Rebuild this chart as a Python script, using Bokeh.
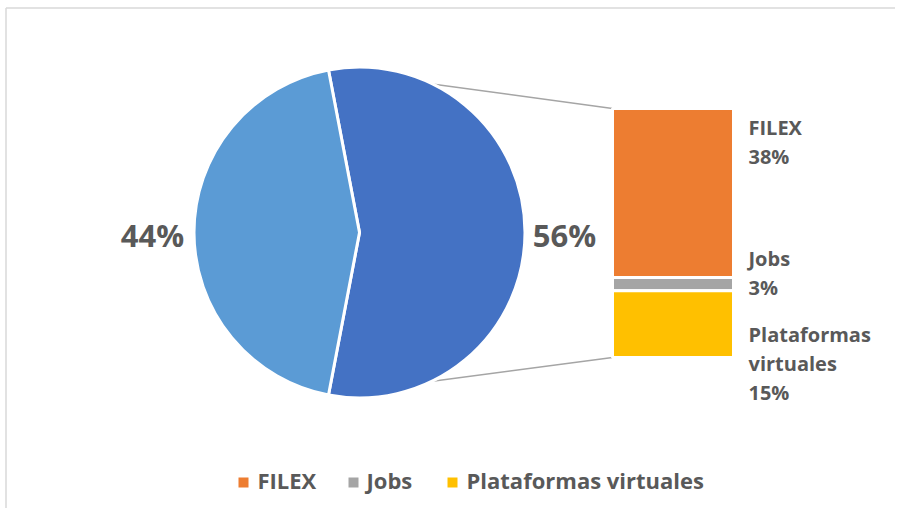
import math
from bokeh.plotting import figure
from bokeh.models import Range1d
from bokeh.core.properties import value
from bokeh.embed import file_html
from bokeh.resources import INLINE

# ---- data ----
pie_labels = ["Otros", "Resto"]
pie_values = [56, 44]            # 56% is broken out into the bar
bar_categories = ["FILEX", "Jobs", "Plataformas virtuales"]
bar_values = [38, 3, 15]
bar_label_lines = [["FILEX", "38%"], ["Jobs", "3%"], ["Plataformas", "virtuales", "15%"]]

# ---- style ----
PIE_COLORS = ["#4472C4", "#5B9BD5"]
BAR_COLORS = ["#ED7D31", "#A5A5A5", "#FFC000"]
TXT = "#595959"
FONT = "Open Sans"

W, H = 895, 508
p = figure(width=W, height=H, output_backend="svg", toolbar_location=None,
           x_range=Range1d(0, W), y_range=Range1d(0, H), min_border=0)
p.axis.visible = False
p.grid.visible = False
p.outline_line_color = None
p.background_fill_color = "white"

def Y(img_y):
    return H - img_y

def X(img_x):
    return img_x

def TY(img_baseline, size):
    # compensate for the renderer's baseline placement
    return Y(img_baseline - 0.4 * size)

# frame (chart area border: top and left visible)
p.segment(x0=[X(5.5), X(5.5)], y0=[Y(7.5), Y(7.5)], x1=[X(903), X(5.5)], y1=[Y(7.5), Y(520)],
          line_color="#d9d9d9", line_width=1.5)

# ---- pie ----
cx, cy, r = X(359), Y(232), 165.5
total = sum(pie_values)
half = pie_values[0] / total * math.pi      # broken-out slice centered on 0 rad
a_top, a_bot = half, -half

# bar geometry
bx0, bx1 = X(612), X(733)
btop, bbot = Y(108), Y(357)
scale = (btop - bbot) / sum(bar_values)

# connector lines (drawn behind the pie)
p.segment(x0=[cx + r * math.cos(a_top), cx + r * math.cos(a_bot)],
          y0=[cy + r * math.sin(a_top), cy + r * math.sin(a_bot)],
          x1=[bx0, bx0], y1=[btop, bbot],
          line_color="#A5A5A5", line_width=1.5)

p.wedge(x=[cx, cx], y=[cy, cy], radius=r,
        start_angle=[a_bot, a_top], end_angle=[a_top, a_bot + 2 * math.pi],
        fill_color=PIE_COLORS, line_color="white", line_width=3)

# pie labels
pct = [f"{v}%" for v in pie_values]
p.text(x=[X(564), X(152)], y=[TY(247, 31), TY(247, 31)], text=pct,
       text_font=value(FONT), text_font_style="bold", text_font_size="31px",
       text_color=TXT, text_align="center", text_baseline="alphabetic")

# ---- bar of pie ----
tops, bots = [], []
cur = btop
for v in bar_values:
    tops.append(cur)
    cur -= v * scale
    bots.append(cur)
p.quad(left=bx0, right=bx1, top=tops, bottom=bots,
       fill_color=BAR_COLORS, line_color="white", line_width=3)

# bar labels (first-line baselines, image y)
label_first_baseline = [135, 266, 342]
line_gap = 29
lx, ly, lt = [], [], []
for lines, b0 in zip(bar_label_lines, label_first_baseline):
    for i, s in enumerate(lines):
        lx.append(X(748))
        ly.append(TY(b0 + i * line_gap, 20))
        lt.append(s)
p.text(x=lx, y=ly, text=lt, text_font=value(FONT), text_font_style="bold",
       text_font_size="20px", text_color=TXT, text_align="left",
       text_baseline="alphabetic")

# ---- legend ----
sq_x = [243, 353, 452]
tx_x = [257, 366, 466]
p.rect(x=[X(v) for v in sq_x], y=Y(482), width=10, height=10,
       fill_color=BAR_COLORS, line_color=None)
p.text(x=[X(v) for v in tx_x], y=TY(488, 22), text=bar_categories,
       text_font=value(FONT), text_font_style="bold", text_font_size="22px",
       text_color=TXT, text_align="left", text_baseline="alphabetic")

open("out.html", "w").write(file_html(p, INLINE))
